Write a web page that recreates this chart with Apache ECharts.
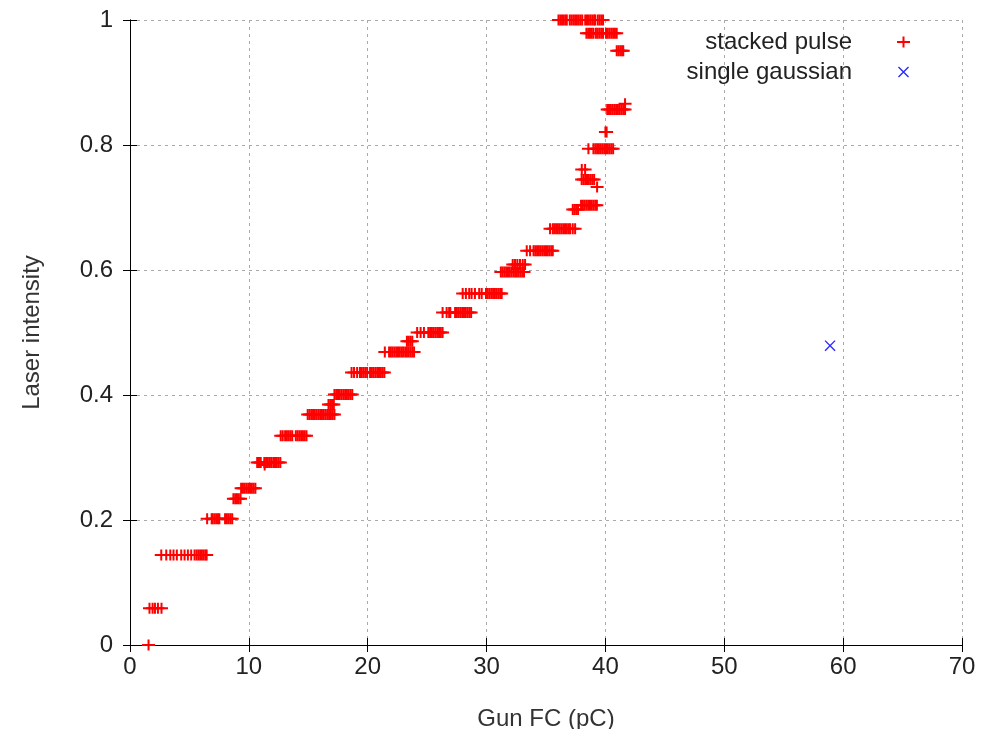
<!DOCTYPE html>
<html>
<head>
<meta charset="utf-8">
<script src="https://cdn.jsdelivr.net/npm/echarts@6/dist/echarts.min.js"></script>
<style>
  html, body { margin: 0; padding: 0; background: #fff; }
  #chart { width: 986px; height: 729px; }
</style>
</head>
<body>
<div id="chart"></div>
<script>
// laser intensity levels and the Gun FC readings at each level (stacked pulse)
var levelY = [0, 0.059, 0.144, 0.202, 0.234, 0.251, 0.292, 0.288, 0.335, 0.369, 0.385, 0.401,
  0.436, 0.469, 0.486, 0.5, 0.532, 0.5625, 0.597, 0.609, 0.631, 0.666, 0.697, 0.7035,
  0.733, 0.745, 0.761, 0.794, 0.821, 0.857, 0.866, 0.951, 0.979, 1.0];
var levelX = [
  [1.56],
  [1.64, 1.9, 2.1, 2.35, 2.65],
  [2.63, 3.05, 3.39, 3.66, 3.94, 4.31, 4.59, 4.87, 5.15, 5.43, 5.6, 5.75, 5.9, 6.05, 6.2, 6.35, 6.45],
  [6.49, 6.87, 6.95, 7.1, 7.25, 7.4, 7.52, 8.0, 8.15, 8.3, 8.45, 8.6],
  [8.7, 8.85, 9.0, 9.15, 9.3],
  [9.35, 9.5, 9.65, 9.8, 9.95, 10.1, 10.25, 10.4, 10.55],
  [10.7, 10.85, 11.0, 11.3, 11.45, 11.6, 11.75, 11.88, 12.05, 12.2, 12.35, 12.5, 12.65],
  [11.33],
  [12.68, 12.85, 13.05, 13.2, 13.35, 13.5, 13.65, 13.95, 14.1, 14.25, 14.4, 14.55, 14.7, 14.85],
  [14.95, 15.1, 15.25, 15.4, 15.55, 15.7, 15.85, 16.0, 16.15, 16.3, 16.45, 16.6, 16.75, 16.9, 17.05, 17.2],
  [16.7, 16.85, 17.0, 17.15],
  [17.2, 17.35, 17.5, 17.65, 17.8, 17.95, 18.1, 18.25, 18.4, 18.55, 18.7],
  [18.64, 18.85, 19.11, 19.35, 19.5, 19.65, 19.8, 19.95, 20.2, 20.35, 20.5, 20.65, 20.8, 20.95, 21.1, 21.25, 21.4],
  [21.44, 21.8, 21.95, 22.1, 22.25, 22.4, 22.55, 22.7, 22.85, 22.98, 23.15, 23.3, 23.45, 23.6, 23.75, 23.9],
  [23.3, 23.45, 23.6, 23.75],
  [24.16, 24.45, 24.73, 25.1, 25.25, 25.4, 25.55, 25.7, 25.85, 26.0, 26.15, 26.3],
  [26.3, 26.64, 26.85, 26.95, 27.35, 27.5, 27.65, 27.8, 27.95, 28.1, 28.25, 28.4, 28.55, 28.7],
  [27.99, 28.26, 28.54, 28.74, 29.02, 29.38, 29.59, 29.95, 30.1, 30.25, 30.4, 30.55, 30.7, 30.85, 31.0, 31.15, 31.27],
  [31.2, 31.35, 31.5, 31.65, 31.8, 31.95, 32.1, 32.25, 32.4, 32.55, 32.7, 32.85, 33.0, 33.15],
  [32.2, 32.39, 32.59, 32.81, 33.04, 33.24],
  [33.38, 33.66, 33.95, 34.1, 34.25, 34.4, 34.55, 34.7, 34.85, 35.0, 35.15, 35.3, 35.45, 35.57],
  [35.34, 35.57, 35.7, 35.85, 36.0, 36.15, 36.3, 36.45, 36.6, 36.75, 36.9, 37.03, 37.25, 37.45],
  [37.25, 37.4, 37.55, 37.7],
  [37.95, 38.1, 38.25, 38.4, 38.55, 38.7, 38.85, 39.0, 39.15, 39.28],
  [39.3],
  [38.0, 38.15, 38.3, 38.45, 38.6, 38.75, 38.9, 39.05],
  [38.01, 38.29],
  [38.57, 38.99, 39.15, 39.3, 39.45, 39.6, 39.75, 39.9, 40.05, 40.2, 40.35, 40.5, 40.65],
  [40.0, 40.1],
  [40.15, 40.3, 40.45, 40.6, 40.75, 40.9, 41.05, 41.2, 41.35, 41.5, 41.65],
  [41.65],
  [40.95, 41.1, 41.25, 41.4, 41.5],
  [38.4, 38.55, 38.7, 38.85, 38.99, 39.2, 39.35, 39.5, 39.65, 39.8, 40.05, 40.2, 40.35, 40.5, 40.65, 40.8, 40.95],
  [36.05, 36.2, 36.35, 36.5, 36.65, 36.75, 37.0, 37.15, 37.3, 37.45, 37.6, 37.75, 37.9, 38.05,
   38.3, 38.45, 38.6, 38.75, 38.9, 39.05, 39.13, 39.35, 39.5, 39.65, 39.8]
];
var gaussX = [58.9];
var gaussY = [0.479];

var stacked = [];
for (var i = 0; i < levelY.length; i++) {
  for (var j = 0; j < levelX[i].length; j++) {
    stacked.push([levelX[i][j], levelY[i]]);
  }
}
var gauss = [];
for (var k = 0; k < gaussX.length; k++) gauss.push([gaussX[k], gaussY[k]]);

var plusPath = 'path://M0,4.5H13V6.5H0Z M5.5,0H7.5V11H5.5Z';
var crossPath = 'path://M0,0.9L0.9,0L10,9.1L9.1,10Z M9.1,0L10,0.9L0.9,10L0,9.1Z';
var font = 'Liberation Sans';
var fs = 24;

var myChart = echarts.init(document.getElementById('chart'));
var option = {
  animation: false,
  backgroundColor: '#fff',
  textStyle: { fontFamily: font },
  grid: { left: 130, right: 24, top: 20, bottom: 84, outerBoundsMode: 'none' },
  legend: {
    orient: 'vertical',
    right: 71,
    top: 23,
    align: 'right',
    itemGap: 2,
    itemWidth: 13,
    itemHeight: 11,
    selectedMode: false,
    textStyle: { fontFamily: font, fontSize: fs, color: '#222', lineHeight: 28, padding: [0, 40, 0, 0] },
    data: [
      { name: 'stacked pulse', icon: plusPath },
      { name: 'single gaussian', icon: crossPath }
    ]
  },
  xAxis: [{
    type: 'value', min: 0, max: 70, interval: 10,
    name: 'Gun FC (pC)', nameLocation: 'middle', nameGap: 62,
    nameTextStyle: { fontFamily: font, fontSize: fs, color: '#333' },
    axisLine: { lineStyle: { color: '#000', width: 1 } },
    axisTick: { inside: true, length: 7, lineStyle: { color: '#000' } },
    axisLabel: { fontFamily: font, fontSize: fs, color: '#222', margin: 10 },
    splitLine: { show: true, lineStyle: { color: '#aaa', type: [3, 4], width: 1 } }
  }, {
    type: 'value', min: 0, max: 70, interval: 10, position: 'top',
    axisLine: { show: true, lineStyle: { color: '#000', width: 1 } },
    axisTick: { show: true, inside: true, length: 7, lineStyle: { color: '#000' } },
    axisLabel: { show: false },
    splitLine: { show: false }
  }],
  yAxis: [{
    type: 'value', min: 0, max: 1, interval: 0.2,
    name: 'Laser intensity', nameLocation: 'middle', nameGap: 86,
    nameTextStyle: { fontFamily: font, fontSize: fs, color: '#333' },
    axisLine: { show: true, lineStyle: { color: '#000', width: 1 } },
    axisTick: { show: true, inside: true, length: 7, lineStyle: { color: '#000' } },
    axisLabel: { fontFamily: font, fontSize: fs, color: '#222', margin: 17 },
    splitLine: { show: true, lineStyle: { color: '#aaa', type: [3, 4], width: 1 } }
  }, {
    type: 'value', min: 0, max: 1, interval: 0.2, position: 'right',
    axisLine: { show: true, lineStyle: { color: '#000', width: 1 } },
    axisTick: { show: true, inside: true, length: 7, lineStyle: { color: '#000' } },
    axisLabel: { show: false },
    splitLine: { show: false }
  }],
  series: [{
    name: 'stacked pulse',
    type: 'scatter',
    clip: false,
    symbol: plusPath,
    symbolSize: [13, 11],
    itemStyle: { color: '#ff0000', opacity: 1 },
    data: stacked
  }, {
    name: 'single gaussian',
    type: 'scatter',
    clip: false,
    symbol: crossPath,
    symbolSize: 11,
    itemStyle: { color: '#2a2aff', opacity: 1 },
    data: gauss
  }]
};
myChart.setOption(option);
</script>
</body>
</html>
